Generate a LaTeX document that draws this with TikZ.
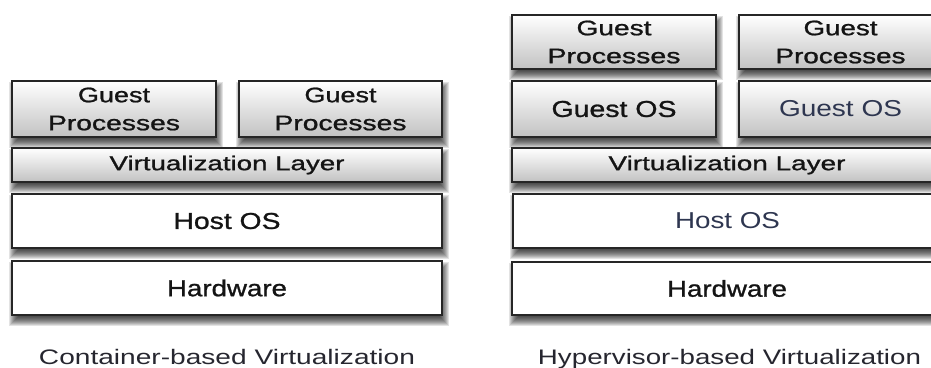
\documentclass[tikz,border=0pt]{standalone}
\usepackage{fontspec}
\setmainfont{Liberation Sans}
\usepackage{graphicx}
\usetikzlibrary{backgrounds}
\definecolor{boxline}{HTML}{262626}
\definecolor{txt}{HTML}{141414}
\definecolor{bluetxt}{HTML}{2E3650}
\definecolor{captxt}{HTML}{26262F}
\newcommand\fw[2]{\resizebox{#1pt}{\height}{#2}}
\newcommand\boxshadow[1]{%
  \foreach \r in {-5,-4,...,5}{%
    \fill[black, opacity=0.11]
      ([shift={({2pt-\r*1pt},{-6pt+\r*1pt})}]#1.north west) rectangle
      ([shift={({2pt+\r*1pt},{-6pt-\r*1pt})}]#1.south east);}}
\begin{document}
\begin{tikzpicture}[x=1pt,y=-1pt,
  layerbox/.style={draw=boxline, line width=1.4pt, inner sep=0pt, outer sep=0pt,
    text=txt, align=center},
  greybox/.style={layerbox, top color=white, bottom color=black!24},
  plainbox/.style={layerbox, fill=white},
  twoline/.style={font=\fontsize{21}{28}\selectfont\addfontfeature{FakeBold=1}},
  oneline/.style={font=\fontsize{23}{27}\selectfont\addfontfeature{FakeBold=1}},
  lightline/.style={font=\fontsize{23}{27}\selectfont},
  vlfont/.style={font=\fontsize{20}{24}\selectfont\addfontfeature{FakeBold=1}},
  captext/.style={anchor=base, text=captxt, font=\fontsize{21}{25}\selectfont, inner sep=0pt}]
\useasboundingbox (0,0) rectangle (931,367);
\clip (0,0) rectangle (931,367);
% ---- Container-based
\node[greybox, twoline, minimum width=204pt, minimum height=56pt] (lgp1) at (114,109)
  {\fw{72}{Guest}\\\fw{132}{Processes}};
\node[greybox, twoline, minimum width=203pt, minimum height=56pt] (lgp2) at (340.5,109)
  {\fw{72}{Guest}\\\fw{132}{Processes}};
\node[greybox, vlfont, minimum width=430pt, minimum height=34pt] (lvl) at (227,165)
  {\fw{235}{Virtualization Layer}};
\node[plainbox, oneline, minimum width=430pt, minimum height=54pt] (lhost) at (227,221)
  {\fw{107}{Host OS}};
\node[plainbox, oneline, minimum width=430pt, minimum height=54pt] (lhw) at (227,288)
  {\fw{120}{Hardware}};
\node[captext] (lcap) at (227,364) {\fw{376}{Container-based Virtualization}};
% ---- Hypervisor-based
\node[greybox, twoline, minimum width=204pt, minimum height=54pt] (rgp1) at (614,42)
  {\fw{75}{Guest}\\\fw{133}{Processes}};
\node[greybox, twoline, minimum width=203pt, minimum height=54pt] (rgp2) at (840.5,42)
  {\fw{74}{Guest}\\\fw{130}{Processes}};
\node[greybox, oneline, minimum width=204pt, minimum height=56pt] (ros1) at (614,109)
  {\fw{125}{Guest OS}};
\node[greybox, lightline, minimum width=203pt, minimum height=56pt, text=bluetxt] (ros2) at (840.5,109)
  {\fw{123}{Guest OS}};
\node[greybox, vlfont, minimum width=430pt, minimum height=34pt] (rvl) at (727,165)
  {\fw{237}{Virtualization Layer}};
\node[plainbox, lightline, minimum width=429pt, minimum height=54pt, text=bluetxt] (rhost) at (727.5,221)
  {\fw{105}{Host OS}};
\node[plainbox, oneline, minimum width=430pt, minimum height=53pt] (rhw) at (727,288.5)
  {\fw{120}{Hardware}};
\node[captext] (rcap) at (729.5,364) {\fw{383}{Hypervisor-based Virtualization}};
% ---- shadows
\begin{pgfonlayer}{background}
  \clip (0,0) rectangle (931,367);
  \boxshadow{lgp1}\boxshadow{lgp2}\boxshadow{lvl}\boxshadow{lhost}\boxshadow{lhw}
  \boxshadow{rgp1}\boxshadow{rgp2}\boxshadow{ros1}\boxshadow{ros2}
  \boxshadow{rvl}\boxshadow{rhost}\boxshadow{rhw}
\end{pgfonlayer}
\end{tikzpicture}
\end{document}
